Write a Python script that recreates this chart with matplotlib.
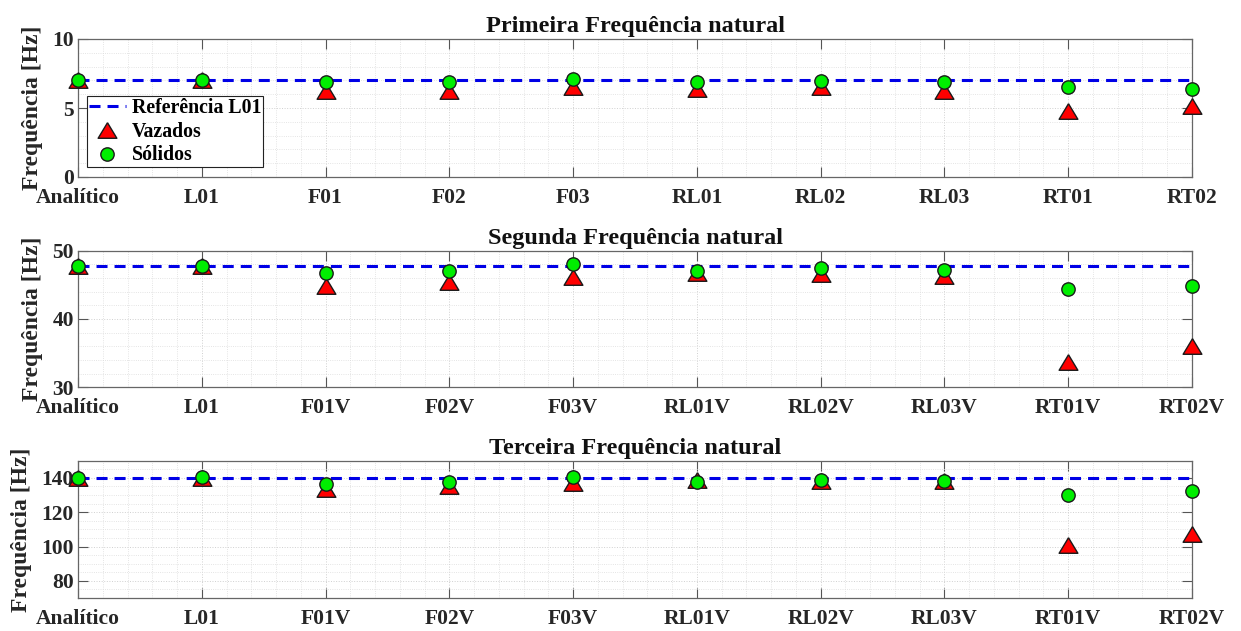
import matplotlib
matplotlib.use("Agg")
import matplotlib.pyplot as plt
import numpy as np
from matplotlib.ticker import MultipleLocator, FixedLocator

plt.rcParams['font.family'] = ['Liberation Serif', 'DejaVu Serif']
plt.rcParams['font.weight'] = 'bold'

# ---- data ----
labels1 = ["Analítico", "L01", "F01", "F02", "F03", "RL01", "RL02", "RL03", "RT01", "RT02"]
labels2 = ["Analítico", "L01", "F01V", "F02V", "F03V", "RL01V", "RL02V", "RL03V", "RT01V", "RT02V"]
labels3 = labels2

ref1 = 7.03
vaz1 = [7.03, 7.03, 6.25, 6.2, 6.5, 6.36, 6.54, 6.2, 4.75, 5.14]
sol1 = [7.03, 7.03, 6.86, 6.9, 7.1, 6.9, 6.95, 6.86, 6.5, 6.4]

ref2 = 47.8
vaz2 = [47.8, 47.8, 44.8, 45.35, 46.1, 46.7, 46.6, 46.3, 33.7, 36.0]
sol2 = [47.8, 47.8, 46.8, 47.0, 48.0, 47.0, 47.4, 47.2, 44.4, 44.8]

ref3 = 140.0
vaz3 = [140.0, 140.0, 133.3, 135.2, 137.0, 138.8, 138.4, 138.4, 101.0, 107.2]
sol3 = [140.0, 140.3, 136.7, 137.5, 140.6, 137.6, 139.0, 138.1, 130.0, 132.3]

titles = ["Primeira Frequência natural", "Segunda Frequência natural", "Terceira Frequência natural"]
ylims = [(0, 10), (30, 50), (70, 150)]
ymajor = [[0, 5, 10], [30, 40, 50], [80, 100, 120, 140]]
yminor = [1, 2, 5]

panels = [
    (labels1, ref1, vaz1, sol1),
    (labels2, ref2, vaz2, sol2),
    (labels3, ref3, vaz3, sol3),
]

fig = plt.figure(figsize=(12.41, 6.31), dpi=100)
W, H = 1241, 631
boxes = [(39, 177), (250.7, 387.3), (460.7, 598)]
left_px, right_px = 78, 1192
ylabel_x = [-0.031, -0.031, -0.041]

tri = np.array([[0, 0.83], [-1, -0.83], [1, -0.83], [0, 0.83]])

for i, (labs, ref, vaz, sol) in enumerate(panels):
    top, bot = boxes[i]
    ax = fig.add_axes([left_px / W, 1 - bot / H, (right_px - left_px) / W, (bot - top) / H])
    x = np.arange(len(labs))
    ax.plot([x[0], x[-1]], [ref, ref], color='#0000e6', lw=2.2, dashes=(3.6, 2.3),
            label='Referência L01', zorder=3)
    ax.plot(x, vaz, linestyle='none', marker=tri, markersize=13.5, markerfacecolor='#ff0000',
            markeredgecolor='#1a1a1a', markeredgewidth=1.0, label='Vazados', zorder=4,
            clip_on=False)
    ax.plot(x, sol, linestyle='none', marker='o', markersize=9.6, markerfacecolor='#00ee00',
            markeredgecolor='#1a1a1a', markeredgewidth=1.0, label='Sólidos', zorder=5,
            clip_on=False)
    ax.set_xlim(x[0], x[-1])
    ax.set_ylim(*ylims[i])
    ax.set_xticks(x)
    ax.set_xticklabels(labs, fontsize=15.5, fontweight='bold', color='#262626')
    ax.yaxis.set_major_locator(FixedLocator(ymajor[i]))
    ax.yaxis.set_minor_locator(MultipleLocator(yminor[i]))
    ax.xaxis.set_minor_locator(MultipleLocator(0.2))
    for lab in ax.get_yticklabels():
        lab.set_fontsize(15.5)
        lab.set_fontweight('bold')
        lab.set_color('#262626')
    ax.tick_params(axis='both', which='major', direction='in', length=7, width=0.8,
                   color='#555555', top=True, right=True)
    ax.tick_params(axis='x', which='major', pad=8)
    ax.tick_params(axis='y', which='major', pad=3)
    ax.tick_params(axis='both', which='minor', length=0, top=True, right=True)
    ax.grid(True, which='major', color='#d0d0d0', linestyle=':', linewidth=0.7)
    ax.grid(True, which='minor', color='#dcdcdc', linestyle=':', linewidth=0.6)
    ax.set_axisbelow(True)
    for s in ax.spines.values():
        s.set_color('#666666')
        s.set_linewidth(0.9)
    ax.set_title(titles[i], fontsize=17.5, fontweight='bold', pad=5, color='#111111')
    ax.set_ylabel('Frequência [Hz]', fontsize=17, fontweight='bold', color='#262626')
    ax.yaxis.set_label_coords(ylabel_x[i], 0.5)
    if i == 0:
        leg = ax.legend(loc='lower left', bbox_to_anchor=(0.008, 0.072), borderaxespad=0,
                        fancybox=False, edgecolor='#222222', framealpha=1,
                        prop={'family': 'Liberation Serif', 'weight': 'bold', 'size': 14.3},
                        handlelength=1.9, handletextpad=0.3, borderpad=0.08, labelspacing=0.2)
        leg.get_frame().set_linewidth(0.8)

fig.savefig('out.png', dpi=100)
